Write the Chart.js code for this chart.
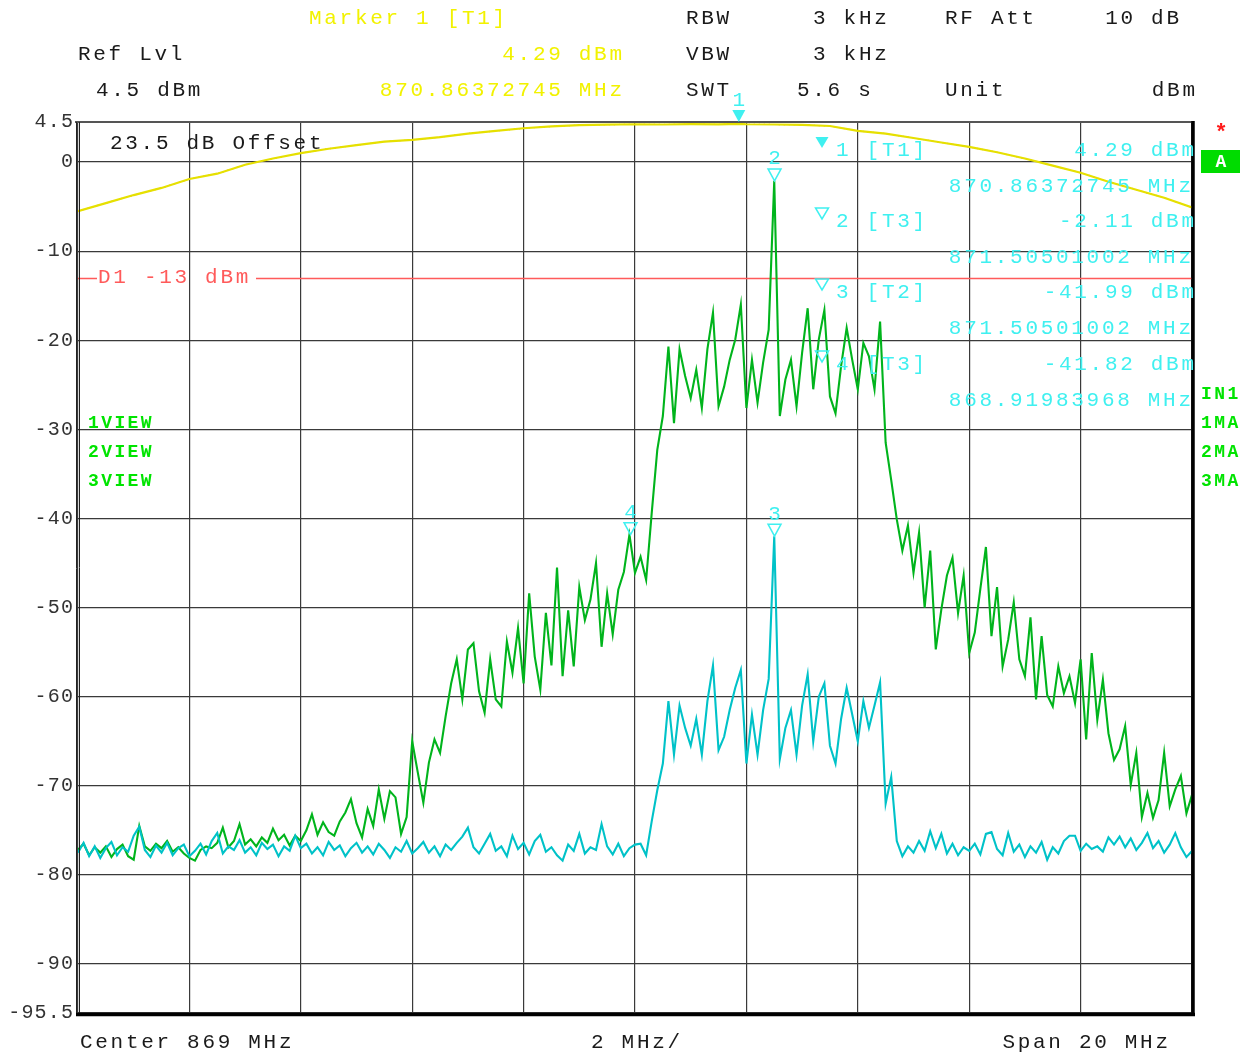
<!DOCTYPE html>
<html>
<head>
<meta charset="utf-8">
<title>Spectrum 869 MHz</title>
<script src="https://cdn.jsdelivr.net/npm/chart.js@4.4.1/dist/chart.umd.min.js"></script>
<style>
  html, body { margin: 0; padding: 0; background: #ffffff; }
  #wrap { position: relative; width: 1249px; height: 1055px; }
</style>
</head>
<body>
<div id="wrap"><canvas id="spec" width="1249" height="1055"></canvas></div>
<script>
// Sweep settings
const START_MHZ = 859;
const STOP_MHZ = 879;
const STEP_MHZ = 0.1;          // trace point spacing for traces 2 and 3

// Grid ticks
const freqGrid = [859, 861, 863, 865, 867, 869, 871, 873, 875, 877, 879];
const levelTicks = [4.5, 0, -10, -20, -30, -40, -50, -60, -70, -80, -90, -95.5];
const levelTickLabels = ["4.5", "0", "-10", "-20", "-30", "-40", "-50", "-60", "-70", "-80", "-90", "-95.5"];

// Trace 3 (green), dBm, one value per 0.1 MHz from 859 MHz
const trace3Levels = [
  -77.2, -76.5, -77.8, -76.9, -77.5, -76.8, -78.0, -77.1, -76.6, -77.9,
  -78.3, -74.5, -76.8, -77.3, -76.5, -77.0, -76.2, -77.4, -76.9, -77.6,
  -78.1, -78.4, -77.2, -76.8, -77.0, -76.4, -74.7, -76.9, -76.2, -74.3,
  -76.6, -76.0, -76.8, -75.8, -76.4, -74.8, -76.1, -75.5, -76.7, -75.6,
  -76.2, -75.0, -73.2, -75.5, -74.1, -75.2, -75.6, -74.0, -73.0, -71.5,
  -74.2, -75.8, -72.6, -74.5, -70.4, -73.7, -70.6, -71.3, -75.4, -73.5,
  -65.0, -68.5, -71.9, -67.4, -64.8, -66.3, -62.2, -58.5, -55.8, -60.3,
  -54.7, -54.0, -59.4, -61.8, -55.8, -60.3, -61.1, -53.8, -57.3, -52.3,
  -58.5, -48.4, -55.5, -59.2, -50.6, -56.5, -45.5, -57.7, -50.3, -56.6,
  -47.7, -51.4, -49.1, -45.0, -54.4, -48.4, -53.0, -48.0, -46.0, -41.82,
  -46.1, -44.3, -46.9, -39.4, -32.3, -28.5, -20.7, -29.3, -21.0, -24.0,
  -26.5, -23.3, -27.6, -21.0, -16.9, -27.4, -25.2, -22.2, -19.9, -16.0,
  -27.6, -22.2, -27.0, -22.5, -18.8, -2.11, -28.5, -24.4, -22.2, -27.4,
  -21.4, -16.4, -25.5, -19.9, -16.6, -26.3, -28.2, -22.9, -18.6, -22.2,
  -25.5, -20.3, -21.8, -25.5, -17.9, -31.5, -35.7, -40.1, -43.6, -40.8,
  -46.1, -41.6, -50.0, -43.6, -54.7, -50.2, -46.4, -44.4, -50.6, -46.4,
  -55.1, -52.8, -47.9, -43.2, -53.2, -47.7, -56.6, -53.6, -49.4, -55.8,
  -57.7, -51.1, -60.3, -53.2, -59.8, -61.1, -56.6, -59.6, -57.7, -60.7,
  -55.8, -64.8, -55.1, -62.6, -58.1, -64.1, -67.1, -65.9, -63.3, -69.9,
  -66.3, -73.5, -70.8, -73.6, -71.6, -66.3, -72.3, -70.4, -68.9, -73.1,
  -71.0
];

// Trace 2 (cyan), dBm, one value per 0.1 MHz from 859 MHz
const trace2Levels = [
  -77.5, -76.4, -77.9, -76.8, -78.1, -77.0, -76.3, -77.8, -76.9, -77.4,
  -75.6, -74.6, -77.2, -78.0, -76.7, -77.5, -76.4, -77.8, -77.0, -76.6,
  -77.9, -77.3, -76.5, -77.7, -76.2, -75.3, -77.6, -76.8, -77.2, -76.1,
  -77.5, -76.9, -77.8, -76.4, -77.1, -76.6, -77.9, -76.8, -77.3, -75.6,
  -77.0, -76.5, -77.6, -76.9, -77.8, -76.3, -77.2, -76.7, -77.9, -77.0,
  -76.4, -77.5, -76.8, -77.7, -76.5, -77.2, -78.1, -76.9, -77.4, -76.2,
  -77.6, -77.0, -76.3, -77.5, -76.8, -77.9, -76.6, -77.2, -76.4, -75.7,
  -74.7, -76.9, -77.6, -76.5, -75.4, -77.3, -76.8, -77.9, -75.6, -77.1,
  -76.4, -77.7, -76.2, -75.5, -77.4, -76.9, -77.8, -78.4, -76.6, -77.3,
  -75.4, -77.6, -76.9, -77.2, -74.3, -76.8, -77.7, -76.5, -77.9, -77.0,
  -76.6, -76.5, -77.8, -74.0, -70.5, -67.5, -60.5, -66.5, -61.0, -63.5,
  -65.5, -62.5, -66.5, -60.5, -56.5, -66.0, -64.5, -61.5, -59.0, -57.0,
  -67.5, -62.0, -66.5, -61.5, -58.0, -41.99, -67.0, -63.5, -61.5, -66.5,
  -61.0, -57.5, -65.0, -60.0, -58.5, -65.5, -67.5, -62.5, -59.0, -62.0,
  -65.0, -60.5, -63.5, -61.0, -58.4, -72.0, -69.0, -76.2, -77.9, -76.8,
  -77.5, -76.2, -77.3, -75.1, -77.0, -75.4, -77.6, -76.5, -77.8, -76.9,
  -77.3, -76.5, -77.7, -75.4, -75.2, -77.1, -77.8, -75.3, -77.4, -76.6,
  -78.0, -76.8, -77.5, -76.3, -78.3, -76.9, -77.6, -76.2, -75.6, -75.6,
  -77.3, -76.5, -77.1, -76.8, -77.4, -75.8, -76.6, -75.7, -76.9, -75.9,
  -77.2, -76.4, -75.3, -77.0, -76.2, -77.5, -76.6, -75.3, -76.9, -78.0,
  -77.3
];

// Trace 1 (yellow, max hold), MHz / dBm
const trace1Freqs = [
  859.0, 859.5, 860.0, 860.5, 861.0, 861.5, 862.0, 862.5, 863.0, 863.5,
  864.0, 864.5, 865.0, 865.5, 866.0, 866.5, 867.0, 867.5, 868.0, 868.5,
  869.0, 869.5, 870.0, 870.5, 870.86372745, 871.0, 871.5, 872.0, 872.5, 873.0,
  873.5, 874.0, 874.5, 875.0, 875.5, 876.0, 876.5, 877.0, 877.5, 878.0,
  878.5, 879.0
];
const trace1Levels = [
  -5.5, -4.6, -3.7, -2.9, -1.9, -1.3, -0.3, 0.4, 1.0, 1.5,
  1.9, 2.3, 2.5, 2.8, 3.2, 3.5, 3.8, 4.0, 4.15, 4.2,
  4.25, 4.22, 4.26, 4.24, 4.29, 4.25, 4.22, 4.18, 4.05, 3.5,
  3.2, 2.7, 2.2, 1.7, 1.1, 0.4, -0.4, -1.2, -2.2, -3.1,
  -4.0, -5.1
];

// Display line
const displayLine = -13;

// Markers
const markerNames = ["1", "2", "3", "4"];
const markerTraces = ["T1", "T3", "T2", "T3"];
const markerFreqs = [870.86372745, 871.50501002, 871.50501002, 868.91983968];
const markerLevels = [4.29, -2.11, -41.99, -41.82];
const markerFreqText = ["870.86372745 MHz", "871.50501002 MHz", "871.50501002 MHz", "868.91983968 MHz"];

const COL_T1 = '#e6e000';
const COL_T2 = '#00c2c8';
const COL_T3 = '#00b41c';
const COL_MK = '#3ff0f0';
const COL_TXT = '#1a1a1a';
const COL_YEL = '#f2f200';
const COL_LBL = '#00e400';
const COL_D1 = '#ff5a5a';

const gridPoints = (levels) => levels.map((v, i) => ({ x: START_MHZ + i * STEP_MHZ, y: v }));
const t1Points = trace1Freqs.map((f, i) => ({ x: f, y: trace1Levels[i] }));

const FONT = '"Liberation Mono", "DejaVu Sans Mono", monospace';

function txt(ctx, s, x, y, color, o = {}) {
  const size = o.size || 21;
  const sp = (o.spacing !== undefined) ? o.spacing : 2.7;
  ctx.save();
  ctx.font = (o.bold ? 'bold ' : '') + size + 'px ' + FONT;
  ctx.letterSpacing = sp + 'px';
  ctx.fillStyle = color;
  ctx.textBaseline = 'middle';
  ctx.textAlign = 'left';
  let xx = x;
  if (o.align === 'right') xx = x - ctx.measureText(s).width + sp;
  else if (o.align === 'center') xx = x - (ctx.measureText(s).width - sp) / 2;
  ctx.fillText(s, xx, y);
  ctx.restore();
}

function tri(ctx, cx, tipY, w, h, color, filled) {
  ctx.save();
  ctx.beginPath();
  ctx.moveTo(cx - w / 2, tipY - h);
  ctx.lineTo(cx + w / 2, tipY - h);
  ctx.lineTo(cx, tipY);
  ctx.closePath();
  ctx.lineWidth = 1.5;
  ctx.strokeStyle = color;
  ctx.fillStyle = color;
  if (filled) ctx.fill(); else ctx.stroke();
  ctx.restore();
}

const analyzerDecor = {
  id: 'analyzerDecor',
  beforeDatasetsDraw(chart) {
    const { ctx, chartArea: a, scales: { y } } = chart;
    const yd = Math.round(y.getPixelForValue(displayLine)) + 0.5;
    ctx.save();
    ctx.strokeStyle = COL_D1;
    ctx.lineWidth = 1.5;
    ctx.beginPath();
    ctx.moveTo(a.left, yd); ctx.lineTo(a.left + 19, yd);
    ctx.moveTo(a.left + 178, yd); ctx.lineTo(a.right, yd);
    ctx.stroke();
    ctx.restore();
    txt(ctx, 'D1 -13 dBm', a.left + 20, yd - 1, COL_D1);
  },
  afterDraw(chart) {
    const { ctx, chartArea: a, scales: { x, y } } = chart;

    // frame
    ctx.save();
    ctx.strokeStyle = '#555';
    ctx.lineWidth = 2;
    ctx.beginPath(); ctx.moveTo(a.left - 3, a.top); ctx.lineTo(a.right + 2, a.top); ctx.stroke();
    ctx.strokeStyle = '#222';
    ctx.lineWidth = 1;
    ctx.beginPath();
    ctx.moveTo(a.left - 1.5, a.top); ctx.lineTo(a.left - 1.5, a.bottom + 2);
    ctx.moveTo(a.left + 1.5, a.top); ctx.lineTo(a.left + 1.5, a.bottom);
    ctx.stroke();
    ctx.strokeStyle = '#000';
    ctx.lineWidth = 3.5;
    ctx.beginPath();
    ctx.moveTo(a.right + 1, a.top - 1); ctx.lineTo(a.right + 1, a.bottom + 3);
    ctx.moveTo(a.left - 2, a.bottom + 1.5); ctx.lineTo(a.right + 3, a.bottom + 1.5);
    ctx.stroke();
    ctx.restore();

    // level labels
    levelTicks.forEach((v, i) => {
      txt(ctx, levelTickLabels[i], 73, y.getPixelForValue(v), '#333', { size: 20, spacing: 1.2, align: 'right' });
    });

    // header
    txt(ctx, 'Marker 1 [T1]', 309, 18, COL_YEL);
    txt(ctx, '4.29 dBm', 622, 54, COL_YEL, { align: 'right' });
    txt(ctx, '870.86372745 MHz', 622, 90, COL_YEL, { align: 'right' });
    txt(ctx, 'Ref Lvl', 78, 54, COL_TXT);
    txt(ctx, '4.5 dBm', 96, 90, COL_TXT);
    txt(ctx, 'RBW', 686, 18, COL_TXT);
    txt(ctx, 'VBW', 686, 54, COL_TXT);
    txt(ctx, 'SWT', 686, 90, COL_TXT);
    txt(ctx, '3 kHz', 813, 18, COL_TXT);
    txt(ctx, '3 kHz', 813, 54, COL_TXT);
    txt(ctx, '5.6 s', 797, 90, COL_TXT);
    txt(ctx, 'RF Att', 945, 18, COL_TXT);
    txt(ctx, '10 dB', 1179, 18, COL_TXT, { align: 'right' });
    txt(ctx, 'Unit', 945, 90, COL_TXT);
    txt(ctx, 'dBm', 1195, 90, COL_TXT, { align: 'right' });

    // footer
    txt(ctx, 'Center 869 MHz', 80, 1042, COL_TXT);
    txt(ctx, '2 MHz/', 591, 1042, COL_TXT);
    txt(ctx, 'Span 20 MHz', 1168, 1042, COL_TXT, { align: 'right' });

    // inside labels
    txt(ctx, '23.5 dB Offset', 110, 143, COL_TXT);
    ['1VIEW', '2VIEW', '3VIEW'].forEach((s, i) => txt(ctx, s, 88, 423 + i * 29, COL_LBL, { size: 18, bold: true, spacing: 2.4 }));
    ['IN1', '1MA', '2MA', '3MA'].forEach((s, i) => txt(ctx, s, 1201, 394 + i * 29, COL_LBL, { size: 18, bold: true, spacing: 2.4 }));

    // status box
    ctx.save();
    ctx.fillStyle = '#00dc00';
    ctx.fillRect(1201, 150, 39, 23);
    ctx.restore();
    txt(ctx, 'A', 1221, 162, '#ffffff', { size: 18, bold: true, spacing: 0, align: 'center' });
    txt(ctx, '*', 1221, 133, '#ff1a1a', { size: 22, bold: true, spacing: 0, align: 'center' });

    // markers on traces
    markerFreqs.forEach((f, i) => {
      const px = x.getPixelForValue(f);
      let tip = y.getPixelForValue(markerLevels[i]);
      if (i === 0) tip = a.top;
      tri(ctx, px, tip, 13, 12, COL_MK, i === 0);
      txt(ctx, markerNames[i], px, tip - 22, COL_MK, { spacing: 0, align: 'center' });
    });

    // marker list
    const rowY = [150, 221, 292, 364];
    rowY.forEach((ry, i) => {
      tri(ctx, 822, ry - 2, 13, 11, COL_MK, i === 0);
      txt(ctx, markerNames[i] + ' [' + markerTraces[i] + ']', 836, ry, COL_MK);
      txt(ctx, markerLevels[i].toFixed(2) + ' dBm', 1194, ry, COL_MK, { align: 'right' });
      txt(ctx, markerFreqText[i], 1191, ry + 36, COL_MK, { align: 'right' });
    });
  }
};

const gridStyle = { color: '#3a3a3a', lineWidth: 1.2, drawTicks: false };

new Chart(document.getElementById('spec'), {
  type: 'line',
  data: {
    datasets: [
      { label: 'T1', data: t1Points, borderColor: COL_T1, borderWidth: 2.2, order: 0 },
      { label: 'T1 dots', data: t1Points, borderColor: '#e03a2a', borderWidth: 1.2, borderDash: [1, 4], order: 0 },
      { label: 'T2', data: gridPoints(trace2Levels), borderColor: COL_T2, borderWidth: 2.1, order: 1 },
      { label: 'T3', data: gridPoints(trace3Levels), borderColor: COL_T3, borderWidth: 2.1, order: 2 }
    ]
  },
  options: {
    responsive: false,
    animation: false,
    devicePixelRatio: 1,
    layout: { padding: { left: 78, top: 122, right: 57, bottom: 42 } },
    elements: { point: { radius: 0 }, line: { tension: 0 } },
    plugins: { legend: { display: false }, tooltip: { enabled: false } },
    scales: {
      x: {
        type: 'linear', min: START_MHZ, max: STOP_MHZ,
        afterBuildTicks: (s) => { s.ticks = freqGrid.map(v => ({ value: v })); },
        ticks: { display: false }, grid: gridStyle, border: { display: false }
      },
      y: {
        type: 'linear', min: -95.5, max: 4.5,
        afterBuildTicks: (s) => { s.ticks = levelTicks.map(v => ({ value: v })); },
        ticks: { display: false }, grid: gridStyle, border: { display: false }
      }
    }
  },
  plugins: [analyzerDecor]
});
</script>
</body>
</html>
